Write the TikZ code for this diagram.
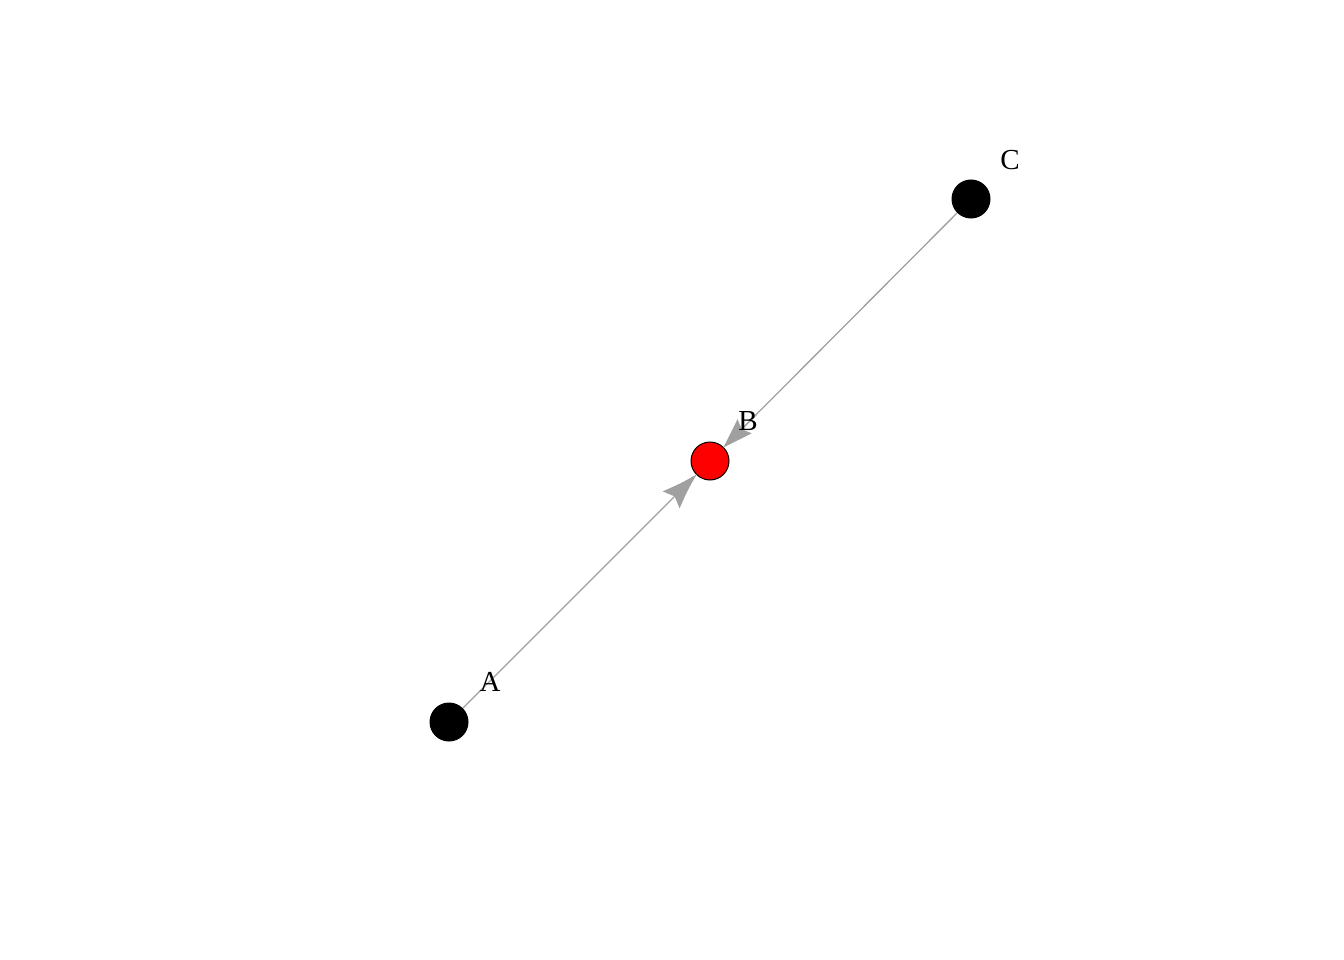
\documentclass[tikz,border=0pt]{standalone}
\usepackage{fontspec}
\setmainfont{Liberation Serif}
\usetikzlibrary{calc}
\definecolor{edgegray}{RGB}{160,160,160}
\tikzset{
  vtx/.style={circle, minimum size=38pt, inner sep=0pt, draw=black, line width=1pt, fill=black},
  lbl/.style={inner sep=0pt, font=\fontsize{29}{29}\selectfont},
  edgeline/.style={draw=edgegray, line width=1.3pt},
  ahead/.style={fill=edgegray}
}
\begin{document}
\begin{tikzpicture}[x=1pt,y=-1pt]
\useasboundingbox (0,0) rectangle (1344,960);
\node[vtx] (A) at (449,722) {};
\node[vtx, fill=red] (B) at (710,461) {};
\node[vtx] (C) at (971,199) {};
% arrow head A -> B
\coordinate (t1) at ($(B)!19pt!(A)$);
\coordinate (b1) at ($(t1)!36pt!(A)$);
\coordinate (i1) at ($(t1)!31pt!(A)$);
\coordinate (m1) at ($(t1)!18pt!(A)$);
\coordinate (w1a) at ($(b1)!12pt!90:(t1)$);
\coordinate (w1b) at ($(b1)!12pt!-90:(t1)$);
\coordinate (c1a) at ($(m1)!5pt!90:(t1)$);
\coordinate (c1b) at ($(m1)!5pt!-90:(t1)$);
% arrow head C -> B
\coordinate (t2) at ($(B)!19pt!(C)$);
\coordinate (b2) at ($(t2)!30pt!(C)$);
\coordinate (i2) at ($(t2)!26pt!(C)$);
\coordinate (m2) at ($(t2)!15pt!(C)$);
\coordinate (w2a) at ($(b2)!10pt!90:(t2)$);
\coordinate (w2b) at ($(b2)!10pt!-90:(t2)$);
\coordinate (c2a) at ($(m2)!4pt!90:(t2)$);
\coordinate (c2b) at ($(m2)!4pt!-90:(t2)$);
\draw[edgeline] (A) -- (i1);
\draw[edgeline] (C) -- (i2);
\fill[ahead] (t1) .. controls (c1a) .. (w1a) -- (i1) -- (w1b) .. controls (c1b) .. (t1) -- cycle;
\fill[ahead] (t2) .. controls (c2a) .. (w2a) -- (i2) -- (w2b) .. controls (c2b) .. (t2) -- cycle;
\node[lbl] (lA) at (490,682) {A};
\node[lbl] (lB) at (748,421) {B};
\node[lbl] (lC) at (1010,160) {C};
\end{tikzpicture}
\end{document}
